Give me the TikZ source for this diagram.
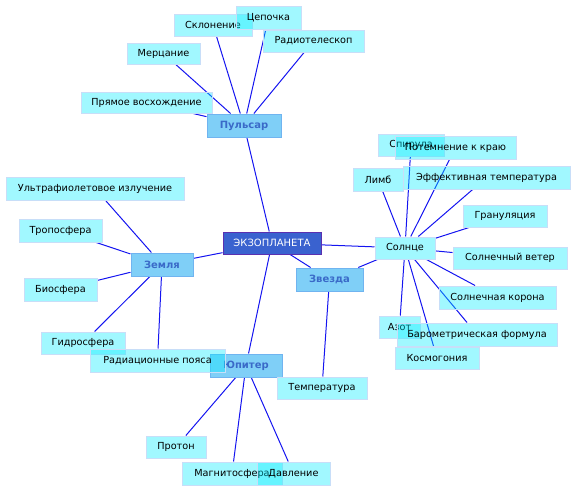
\documentclass[tikz,border=0pt]{standalone}
\usepackage{fontspec}
\setmainfont{DejaVu Sans}
\usetikzlibrary{backgrounds}
\definecolor{leaffill}{RGB}{0,236,255}
\definecolor{leafborder}{RGB}{200,222,248}
\definecolor{midfill}{RGB}{0,160,240}
\definecolor{midborder}{RGB}{112,180,240}
\definecolor{midtext}{RGB}{58,106,200}
\definecolor{rootfill}{RGB}{58,98,207}
\definecolor{rootborder}{RGB}{90,48,176}
\definecolor{edgeblue}{RGB}{20,20,240}
\tikzset{
  wh/.style 2 args={minimum width=#1pt, minimum height=#2pt},
  box/.style={rectangle, inner sep=0pt, font=\fontsize{9.7}{11}\selectfont, text opacity=1, draw opacity=1, line width=1pt},
  leaf/.style={box, fill=leaffill, fill opacity=0.37, draw=leafborder, text=black},
  mid/.style={box, fill=midfill, fill opacity=0.5, draw=midborder, text=midtext, font=\fontsize{10}{11}\selectfont\bfseries},
  root/.style={box, fill=rootfill, draw=rootborder, text=white, font=\fontsize{10}{11}\selectfont},
  edge/.style={draw=edgeblue, line width=1pt}
}
\begin{document}
\begin{tikzpicture}[x=1pt,y=-1pt]
\useasboundingbox (0,0) rectangle (576,491);
% root and mid nodes
\node[root, wh={98}{22}] (ex) at (272,243) {ЭКЗОПЛАНЕТА};
\node[mid, wh={74}{23}] (pul) at (244,125.5) {Пульсар};
\node[mid, wh={62}{23}] (zem) at (162,264.5) {Земля};
\node[mid, wh={72}{23}] (yup) at (246,365.5) {Юпитер};
\node[mid, wh={67}{23}] (zv) at (329.5,279.5) {Звезда};
\node[leaf, wh={60}{22}] (sol) at (405,248) {Солнце};
% Pulsar leaves
\node[leaf, wh={78}{22}] (skl) at (213,25) {Склонение};
\node[leaf, wh={65}{23}] (cep) at (268.5,17.5) {Цепочка};
\node[leaf, wh={101}{22}] (rad) at (313.5,41) {Радиотелескоп};
\node[leaf, wh={73}{21}] (mer) at (163.5,53.5) {Мерцание};
\node[leaf, wh={131}{21}] (pv) at (146.5,102.5) {Прямое восхождение};
% Earth leaves
\node[leaf, wh={178}{23}] (uf) at (95,188.5) {Ультрафиолетовое излучение};
\node[leaf, wh={83}{23}] (tro) at (60.5,230.5) {Тропосфера};
\node[leaf, wh={73}{23}] (bio) at (60.5,289.5) {Биосфера};
\node[leaf, wh={84}{22}] (gid) at (83,343) {Гидросфера};
\node[leaf, wh={135}{23}] (rp) at (157.5,360.5) {Радиационные пояса};
% Jupiter leaves
\node[leaf, wh={60}{22}] (pro) at (176,447) {Протон};
\node[leaf, wh={100}{23}] (mag) at (232,473.5) {Магнитосфера};
\node[leaf, wh={73}{23}] (dav) at (293.5,473.5) {Давление};
% Star leaves
\node[leaf, wh={90}{22}] (tem) at (322,388) {Температура};
% Sun leaves
\node[leaf, wh={66}{22}] (spi) at (411,145) {Спирула};
\node[leaf, wh={121}{23}] (pot) at (455.5,147.5) {Потемнение к краю};
\node[leaf, wh={50}{23}] (lim) at (378,179.5) {Лимб};
\node[leaf, wh={167}{23}] (eff) at (486.5,177.5) {Эффективная температура};
\node[leaf, wh={84}{22}] (gra) at (505,216) {Грануляция};
\node[leaf, wh={114}{22}] (sv) at (510,258) {Солнечный ветер};
\node[leaf, wh={117}{23}] (sk) at (497.5,297.5) {Солнечная корона};
\node[leaf, wh={41}{22}] (azo) at (399.5,327) {Азот};
\node[leaf, wh={160}{23}] (bar) at (477,334.5) {Барометрическая формула};
\node[leaf, wh={84}{22}] (kos) at (437,358) {Космогония};
\begin{scope}[on background layer]
\draw[edge] (ex) -- (pul);
\draw[edge] (ex) -- (zem);
\draw[edge] (ex) -- (yup);
\draw[edge] (ex) -- (zv);
\draw[edge] (ex) -- (sol);
\draw[edge] (pul) -- (skl);
\draw[edge] (pul) -- (cep);
\draw[edge] (pul) -- (rad);
\draw[edge] (pul) -- (mer);
\draw[edge] (pul) -- (pv);
\draw[edge] (zem) -- (uf);
\draw[edge] (zem) -- (tro);
\draw[edge] (zem) -- (bio);
\draw[edge] (zem) -- (gid);
\draw[edge] (zem) -- (rp);
\draw[edge] (yup) -- (pro);
\draw[edge] (yup) -- (mag);
\draw[edge] (yup) -- (dav);
\draw[edge] (zv) -- (tem);
\draw[edge] (zv) -- (sol);
\draw[edge] (sol) -- (spi);
\draw[edge] (sol) -- (pot);
\draw[edge] (sol) -- (lim);
\draw[edge] (sol) -- (eff);
\draw[edge] (sol) -- (gra);
\draw[edge] (sol) -- (sv);
\draw[edge] (sol) -- (sk);
\draw[edge] (sol) -- (azo);
\draw[edge] (sol) -- (bar);
\draw[edge] (sol) -- (kos);
\end{scope}
\end{tikzpicture}
\end{document}
